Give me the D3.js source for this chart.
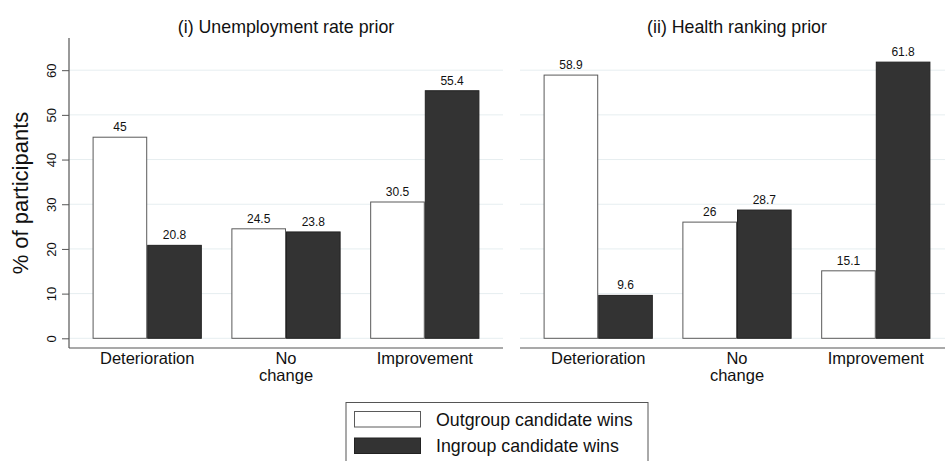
<!DOCTYPE html>
<html>
<head>
<meta charset="utf-8">
<script src="https://cdn.jsdelivr.net/npm/d3@7"></script>
<style>
  html, body { margin: 0; padding: 0; background: #fff; }
  svg { display: block; font-family: "Liberation Sans", Arial, Helvetica, sans-serif; }
</style>
</head>
<body>
<svg id="chart" width="945" height="461"></svg>
<script>
// ---- Data ----
const categories = ["Deterioration", "No change", "Improvement"];
const categoryLines = [["Deterioration"], ["No", "change"], ["Improvement"]];
const seriesNames = ["Outgroup candidate wins", "Ingroup candidate wins"];
const panelTitles = ["(i) Unemployment rate prior", "(ii) Health ranking prior"];
// panel (i) Unemployment rate prior
const unempOutgroup = [45, 24.5, 30.5];
const unempIngroup = [20.8, 23.8, 55.4];
// panel (ii) Health ranking prior
const healthOutgroup = [58.9, 26, 15.1];
const healthIngroup = [9.6, 28.7, 61.8];
const yTicks = [0, 10, 20, 30, 40, 50, 60];
const yLabel = "% of participants";

const panels = [
  { title: panelTitles[0], out: unempOutgroup, inn: unempIngroup, x0: 69, showY: true },
  { title: panelTitles[1], out: healthOutgroup, inn: healthIngroup, x0: 520, showY: false }
];

const fills = ["#ffffff", "#333333"];
const strokes = ["#5a5a5a", "#222222"];

const svg = d3.select("#chart");
const panelW = 434;
const yZero = 338.3, yTop = 38, axisY = 348;

const y = d3.scaleLinear().domain([0, 67.2]).range([yZero, yTop]);

panels.forEach(p => {
  const g = svg.append("g");
  const x = d3.scaleBand().domain(categories)
    .range([p.x0, p.x0 + panelW]).paddingInner(0.213).paddingOuter(0.17);
  const xs = d3.scaleBand().domain(seriesNames).range([0, x.bandwidth()]).padding(0);

  // gridlines
  g.selectAll("line.grid").data(yTicks).join("line")
    .attr("x1", p.x0).attr("x2", p.x0 + panelW)
    .attr("y1", d => y(d)).attr("y2", d => y(d))
    .attr("stroke", "#e6eef0").attr("stroke-width", 1);

  // bars
  const rows = categories.map((c, i) => ({ c, vals: [p.out[i], p.inn[i]] }));
  rows.forEach(r => {
    r.vals.forEach((v, k) => {
      const bx = x(r.c) + xs(seriesNames[k]);
      g.append("rect")
        .attr("x", bx + 0.5).attr("y", y(v))
        .attr("width", xs.bandwidth() - 1).attr("height", y(0) - y(v))
        .attr("fill", fills[k]).attr("stroke", strokes[k]).attr("stroke-width", 1);
      g.append("text")
        .attr("x", bx + xs.bandwidth() / 2).attr("y", y(v) - 6)
        .attr("text-anchor", "middle").attr("font-size", 12).attr("fill", "#111")
        .text(v);
    });
  });

  // x axis line
  g.append("line").attr("x1", p.x0).attr("x2", p.x0 + panelW)
    .attr("y1", axisY).attr("y2", axisY).attr("stroke", "#555").attr("stroke-width", 1.2);

  // x category labels
  categories.forEach((c, i) => {
    const t = g.append("text").attr("text-anchor", "middle")
      .attr("font-size", 16.5).attr("fill", "#111");
    categoryLines[i].forEach((line, j) => {
      t.append("tspan").attr("x", x(c) + x.bandwidth() / 2)
        .attr("y", 364 + j * 16.5).text(line);
    });
  });

  // title
  g.append("text").attr("x", p.x0 + panelW / 2).attr("y", 32.5)
    .attr("text-anchor", "middle").attr("font-size", 17.8).attr("fill", "#111")
    .text(p.title);

  if (p.showY) {
    const ax = g.append("g").attr("transform", `translate(${p.x0},0)`)
      .call(d3.axisLeft(y).tickValues(yTicks).tickSize(7).tickPadding(7).tickFormat(d3.format("d")));
    ax.select(".domain").remove();
    ax.append("line").attr("x1", 0).attr("x2", 0).attr("y1", yTop).attr("y2", axisY)
      .attr("stroke", "#555").attr("stroke-width", 1.2);
    ax.selectAll(".tick line").attr("stroke", "#555");
    ax.selectAll(".tick text")
      .attr("font-family", "Liberation Sans, Arial, sans-serif")
      .attr("font-size", 13).attr("fill", "#111")
      .attr("text-anchor", "middle")
      .attr("x", 0).attr("y", 0).attr("dy", 0)
      .attr("transform", "translate(-13,0) rotate(-90)");

    svg.append("text")
      .attr("transform", `translate(28,${193}) rotate(-90)`)
      .attr("text-anchor", "middle").attr("font-size", 22).attr("fill", "#111")
      .text(yLabel);
  }
});

// legend
const lg = svg.append("g");
lg.append("rect").attr("x", 346).attr("y", 402.5).attr("width", 302).attr("height", 70)
  .attr("fill", "#fff").attr("stroke", "#555").attr("stroke-width", 1);
seriesNames.forEach((s, k) => {
  const yy = 411.5 + k * 26.5;
  lg.append("rect").attr("x", 354.5).attr("y", yy).attr("width", 66).attr("height", 15.5)
    .attr("fill", fills[k]).attr("stroke", strokes[k]).attr("stroke-width", 1);
  lg.append("text").attr("x", 436).attr("y", yy + 14).attr("font-size", 17.8).attr("fill", "#111")
    .text(s);
});
</script>
</body>
</html>
